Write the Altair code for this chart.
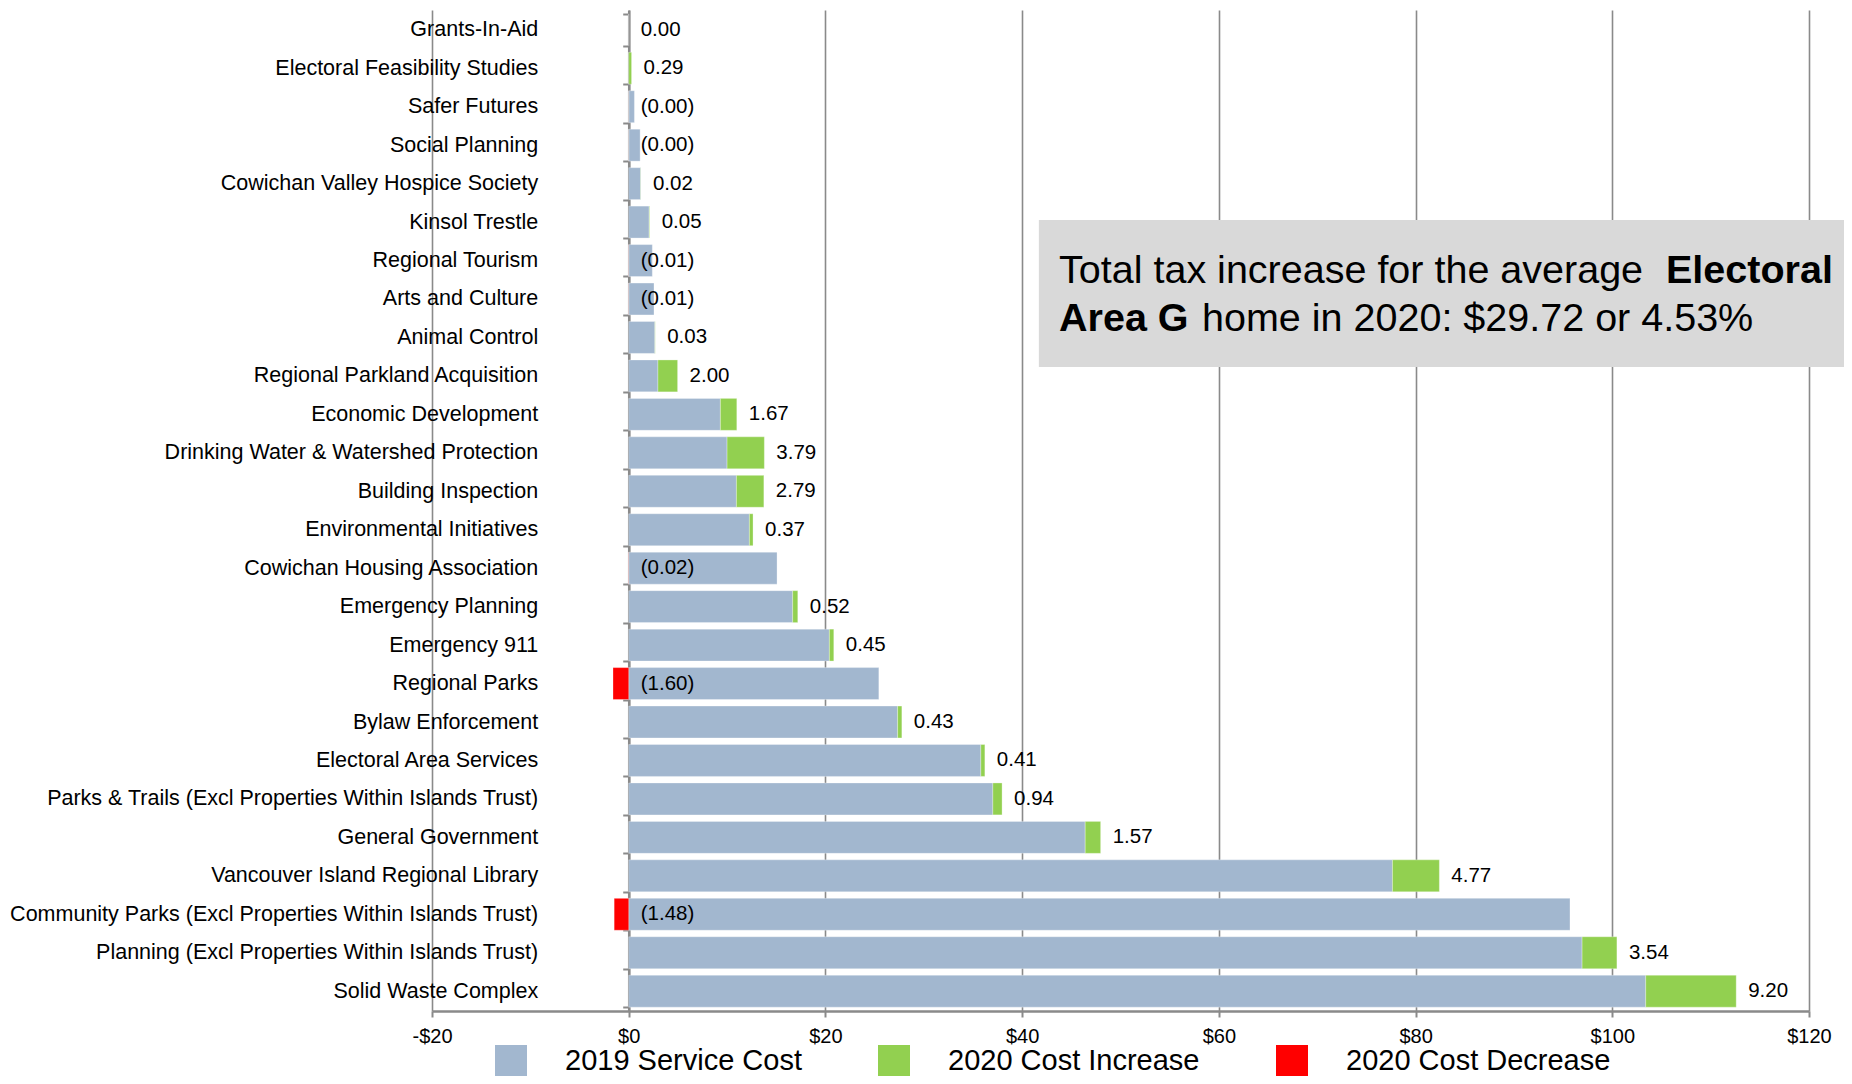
import altair as alt
import pandas as pd

categories = [
    "Grants-In-Aid",
    "Electoral Feasibility Studies",
    "Safer Futures",
    "Social Planning",
    "Cowichan Valley Hospice Society",
    "Kinsol Trestle",
    "Regional Tourism",
    "Arts and Culture",
    "Animal Control",
    "Regional Parkland Acquisition",
    "Economic Development",
    "Drinking Water & Watershed Protection",
    "Building Inspection",
    "Environmental Initiatives",
    "Cowichan Housing Association",
    "Emergency Planning",
    "Emergency 911",
    "Regional Parks",
    "Bylaw Enforcement",
    "Electoral Area Services",
    "Parks & Trails (Excl Properties Within Islands Trust)",
    "General Government",
    "Vancouver Island Regional Library",
    "Community Parks (Excl Properties Within Islands Trust)",
    "Planning (Excl Properties Within Islands Trust)",
    "Solid Waste Complex",
]
cost_2019 = [0.0, 0.0, 0.58, 1.16, 1.22, 2.08, 2.40, 2.57, 2.66, 2.97,
             9.32, 10.00, 10.95, 12.27, 15.08, 16.67, 20.40, 25.43, 27.34, 35.80,
             37.02, 46.41, 77.65, 95.70, 96.93, 103.40]
change_2020 = [0.00, 0.29, -0.004, -0.004, 0.02, 0.05, -0.01, -0.01, 0.03, 2.00,
               1.67, 3.79, 2.79, 0.37, -0.02, 0.52, 0.45, -1.60, 0.43, 0.41,
               0.94, 1.57, 4.77, -1.48, 3.54, 9.20]
change_labels = ["0.00", "0.29", "(0.00)", "(0.00)", "0.02", "0.05", "(0.01)", "(0.01)", "0.03", "2.00",
                 "1.67", "3.79", "2.79", "0.37", "(0.02)", "0.52", "0.45", "(1.60)", "0.43", "0.41",
                 "0.94", "1.57", "4.77", "(1.48)", "3.54", "9.20"]
series_names = ["2019 Service Cost", "2020 Cost Increase", "2020 Cost Decrease"]
series_colors = ["#a2b7cf", "#92d050", "#ff0000"]
x_ticks = [-20, 0, 20, 40, 60, 80, 100, 120]
note_normal_1 = "Total tax increase for the average "
note_bold_1 = "Electoral"
note_bold_2 = "Area G"
note_normal_2 = "home in 2020: $29.72 or 4.53%"

bar_rows = []
label_rows = []
for cat, base, ch, lab in zip(categories, cost_2019, change_2020, change_labels):
    bar_rows.append({"category": cat, "series": series_names[0], "start": 0.0, "end": base})
    if ch > 0:
        bar_rows.append({"category": cat, "series": series_names[1], "start": base, "end": base + ch})
    elif ch < 0:
        bar_rows.append({"category": cat, "series": series_names[2], "start": ch, "end": 0.0})
    anchor = 0.0 if lab.startswith("(") else base + max(ch, 0)
    label_rows.append({"category": cat, "anchor": anchor, "label": lab})

bars_df = pd.DataFrame(bar_rows)
labels_df = pd.DataFrame(label_rows)

W, H = 1377, 1001
XMIN, XMAX = -20, 120
zero_off = -W * (0 - XMIN) / (XMAX - XMIN)

xscale = alt.Scale(domain=[XMIN, XMAX], nice=False, zero=False)
yscale = alt.Scale(domain=categories, paddingInner=0.17, paddingOuter=0.1)

bars = alt.Chart(bars_df).mark_bar(stroke="#ffffff", strokeWidth=0.6, strokeOpacity=0.5).encode(
    x=alt.X("start:Q", scale=xscale, title=None,
            axis=alt.Axis(values=x_ticks, grid=True, gridColor="#8a8a8a", gridWidth=1.6,
                          domainColor="#8a8a8a", domainWidth=2.5, tickColor="#8a8a8a",
                          tickSize=6, tickWidth=2, labelFontSize=20, labelColor="#000000",
                          labelPadding=9, labelFlush=False,
                          labelExpr="datum.value < 0 ? '-$' + abs(datum.value) : '$' + datum.value")),
    x2="end:Q",
    y=alt.Y("category:N", scale=yscale, sort=categories, title=None,
            axis=alt.Axis(orient="left", offset=zero_off, domainColor="#8a8a8a", domainWidth=2.5,
                          tickColor="#8a8a8a", tickSize=6, tickWidth=2, tickBand="extent",
                          labelFontSize=21.5, labelColor="#000000", labelPadding=85,
                          labelLimit=700)),
    color=alt.Color("series:N", scale=alt.Scale(domain=series_names, range=series_colors),
                    legend=alt.Legend(title=None, orient="none", direction="horizontal", columns=3,
                                      legendX=63, legendY=1035, symbolType="square", symbolSize=1024,
                                      symbolStrokeWidth=0, symbolOpacity=1, labelFontSize=29,
                                      labelColor="#000000", labelOffset=38, columnPadding=76,
                                      padding=0, labelLimit=500)),
    order=alt.value(0),
)

texts = alt.Chart(labels_df).mark_text(align="left", baseline="middle", dx=12, fontSize=20.5,
                                       color="#000000").encode(
    x=alt.X("anchor:Q", scale=xscale),
    y=alt.Y("category:N", scale=yscale, sort=categories),
    text="label:N",
)

note_df = pd.DataFrame({"x": [41.7], "x2": [140.0]})
note_box = alt.Chart(note_df).mark_rect(color="#d9d9d9").encode(
    x=alt.X("x:Q", scale=xscale),
    x2="x2:Q",
    y=alt.value(210),
    y2=alt.value(357),
)

note_anchor = 43.75
def note_text(txt, dx, ypx, bold):
    return alt.Chart(pd.DataFrame({"t": [txt], "x": [note_anchor]})).mark_text(
        align="left", baseline="alphabetic", fontSize=39.5, dx=dx,
        fontWeight="bold" if bold else "normal", color="#000000").encode(
        x=alt.X("x:Q", scale=xscale), y=alt.value(ypx), text="t:N")

notes = [
    note_text(note_normal_1, 0, 273, False),
    note_text(note_bold_1, 607, 273, True),
    note_text(note_bold_2, 0, 321, True),
    note_text(note_normal_2, 143, 321, False),
]

chart = alt.layer(note_box, bars, texts, *notes).properties(
    width=W, height=H,
    autosize=alt.AutoSizeParams(type="none"),
    padding={"left": 424, "top": 2, "right": 35, "bottom": 65},
).configure(font="Liberation Sans").configure_view(stroke=None)

chart.save("out.html", embed_options={"renderer": "svg", "actions": False})
